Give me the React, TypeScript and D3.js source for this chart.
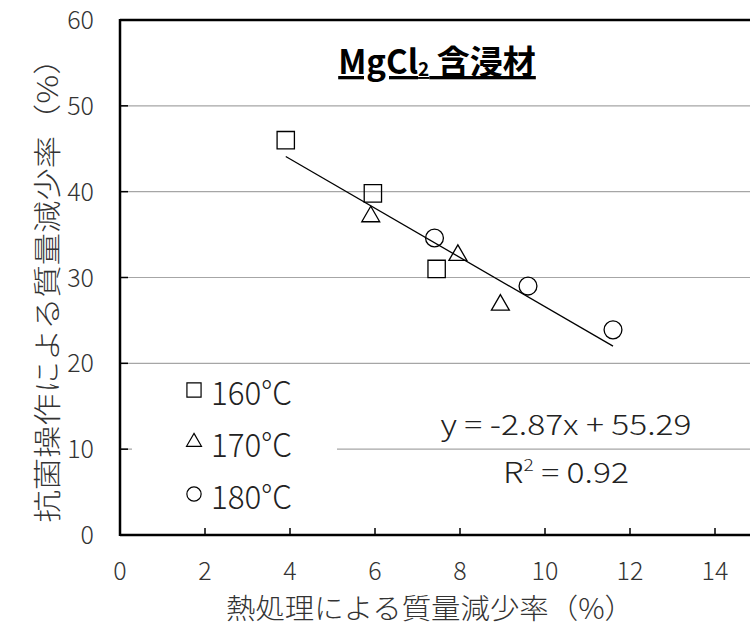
import { useEffect, useRef } from "react";
import * as d3 from "d3";

const W = 750, H = 636;
const M = { left: 120, top: 20, bottom: 535 };
const FONT = "'Noto Sans CJK JP', 'Noto Sans', sans-serif";

// data
const series = ["160°C", "170°C", "180°C"];
const shapes = ["square", "triangle", "circle"];
const x160 = [3.9, 5.95, 7.45];
const y160 = [46.0, 39.8, 31.0];
const x170 = [5.9, 7.95, 8.95];
const y170 = [37.1, 32.6, 26.8];
const x180 = [7.4, 9.6, 11.6];
const y180 = [34.6, 29.0, 23.9];
const xTicks = [0, 2, 4, 6, 8, 10, 12, 14, 16];
const yTicks = [0, 10, 20, 30, 40, 50, 60];
const slope = -2.87, intercept = 55.29, r2 = 0.92;

const symbolFor = (s: string) =>
  s === "square" ? d3.symbolSquare : s === "triangle" ? d3.symbolTriangle2 : d3.symbolCircle;

export default function App() {
  const ref = useRef<SVGSVGElement>(null);

  useEffect(() => {
    const svg = d3.select(ref.current);
    svg.selectAll("*").remove();

    const x = d3.scaleLinear().domain([0, 16]).range([M.left, M.left + 16 * 42.5]);
    const y = d3.scaleLinear().domain([0, 60]).range([M.bottom, M.top]);

    // gridlines
    svg.append("g").selectAll("line")
      .data(yTicks.filter(t => t > 0 && t < 60)).join("line")
      .attr("x1", M.left).attr("x2", W).attr("y1", d => y(d)).attr("y2", d => y(d))
      .attr("stroke", "#a6a6a6").attr("stroke-width", 1.2);

    // legend box (covers grid)
    svg.append("rect").attr("x", 132).attr("y", 370).attr("width", 205).attr("height", 152).attr("fill", "#fff");

    // axes
    const axis = svg.append("g");
    axis.append("line").attr("x1", M.left).attr("x2", W).attr("y1", M.bottom).attr("y2", M.bottom)
      .attr("stroke", "#000").attr("stroke-width", 2.5);
    axis.append("line").attr("x1", M.left).attr("x2", W).attr("y1", M.top).attr("y2", M.top)
      .attr("stroke", "#000").attr("stroke-width", 2.5);
    axis.append("line").attr("x1", M.left).attr("x2", M.left).attr("y1", M.top - 1).attr("y2", M.bottom + 1)
      .attr("stroke", "#000").attr("stroke-width", 2.5);

    axis.selectAll(".yt").data(yTicks).join("line").attr("class", "yt")
      .attr("x1", M.left).attr("x2", M.left + 8).attr("y1", d => y(d)).attr("y2", d => y(d))
      .attr("stroke", "#000").attr("stroke-width", 1.5);
    axis.selectAll(".xt").data(xTicks).join("line").attr("class", "xt")
      .attr("x1", d => x(d)).attr("x2", d => x(d)).attr("y1", M.bottom).attr("y2", M.bottom - 7)
      .attr("stroke", "#000").attr("stroke-width", 1.5);

    const lab = svg.append("g").attr("font-family", FONT).attr("fill", "#333").attr("font-weight", 300);
    lab.selectAll(".yl").data(yTicks).join("text").attr("class", "yl")
      .attr("x", 94).attr("y", d => y(d) + 9).attr("text-anchor", "end")
      .attr("font-size", 25).text(d => d);
    lab.selectAll(".xl").data(xTicks.filter(t => t < 16)).join("text").attr("class", "xl")
      .attr("x", d => x(d)).attr("y", 580).attr("text-anchor", "middle")
      .attr("font-size", 25).text(d => d);

    lab.append("text").attr("x", 430).attr("y", 619).attr("text-anchor", "middle")
      .attr("font-size", 28).attr("textLength", 408).attr("lengthAdjust", "spacingAndGlyphs")
      .text("熱処理による質量減少率（%）");
    lab.append("text").attr("transform", `translate(58,${(M.top + M.bottom) / 2 + 5}) rotate(-90)`)
      .attr("text-anchor", "middle").attr("font-size", 28).attr("textLength", 480).attr("lengthAdjust", "spacingAndGlyphs")
      .text("抗菌操作による質量減少率（%）");

    // title
    const title = svg.append("text").attr("x", 437).attr("y", 74).attr("text-anchor", "middle")
      .attr("font-family", FONT).attr("font-weight", 700).attr("font-size", 33)
      .attr("text-decoration", "underline").attr("fill", "#000");
    title.append("tspan").text("MgCl");
    title.append("tspan").attr("font-size", 19).attr("dy", 2).text("2");
    title.append("tspan").attr("dy", -2).text(" 含浸材");

    // trend line
    const xs = [...x160, ...x170, ...x180];
    const [x0, x1] = d3.extent(xs) as [number, number];
    svg.append("line")
      .attr("x1", x(x0)).attr("y1", y(slope * x0 + intercept))
      .attr("x2", x(x1)).attr("y2", y(slope * x1 + intercept))
      .attr("stroke", "#000").attr("stroke-width", 1.3);

    // points
    const data = [
      { xs: x160, ys: y160 }, { xs: x170, ys: y170 }, { xs: x180, ys: y180 },
    ];
    data.forEach((s, i) => {
      const sym = d3.symbol().type(symbolFor(shapes[i])).size(shapes[i] === "triangle" ? 230 : shapes[i] === "circle" ? 250 : 300);
      svg.append("g").selectAll("path").data(s.xs.map((v, j) => [v, s.ys[j]])).join("path")
        .attr("transform", d => `translate(${x(d[0])},${y(d[1])})`)
        .attr("d", sym).attr("fill", "none").attr("stroke", "#000").attr("stroke-width", 1.3);
    });

    // legend
    const leg = svg.append("g").attr("font-family", FONT).attr("font-weight", 300);
    series.forEach((name, i) => {
      const cy = 390 + i * 52;
      const sym = d3.symbol().type(symbolFor(shapes[i])).size(shapes[i] === "square" ? 200 : 160);
      leg.append("path").attr("transform", `translate(194,${cy})`).attr("d", sym)
        .attr("fill", "none").attr("stroke", "#000").attr("stroke-width", 1.2);
      leg.append("text").attr("x", 211).attr("y", cy + 15).attr("font-size", 33).attr("fill", "#222")
        .attr("textLength", 81).attr("lengthAdjust", "spacingAndGlyphs").text(name);
    });

    // equation label
    const eq = svg.append("g").attr("font-family", FONT).attr("fill", "#222").attr("font-weight", 300);
    eq.append("text").attr("x", 566).attr("y", 435).attr("text-anchor", "middle").attr("font-size", 28)
      .attr("textLength", 251).attr("lengthAdjust", "spacingAndGlyphs")
      .text(`y = ${slope.toFixed(2)}x + ${intercept.toFixed(2)}`);
    const r = eq.append("text").attr("x", 566).attr("y", 483).attr("text-anchor", "middle").attr("font-size", 28)
      .attr("textLength", 126).attr("lengthAdjust", "spacingAndGlyphs");
    r.append("tspan").text("R");
    r.append("tspan").attr("font-size", 16).attr("dy", -12).text("2");
    r.append("tspan").attr("dy", 12).text(` = ${r2.toFixed(2)}`);
  }, []);

  return (
    <svg ref={ref} width={W} height={H}
      style={{ position: "absolute", left: 0, top: 0, background: "#fff" }} />
  );
}
